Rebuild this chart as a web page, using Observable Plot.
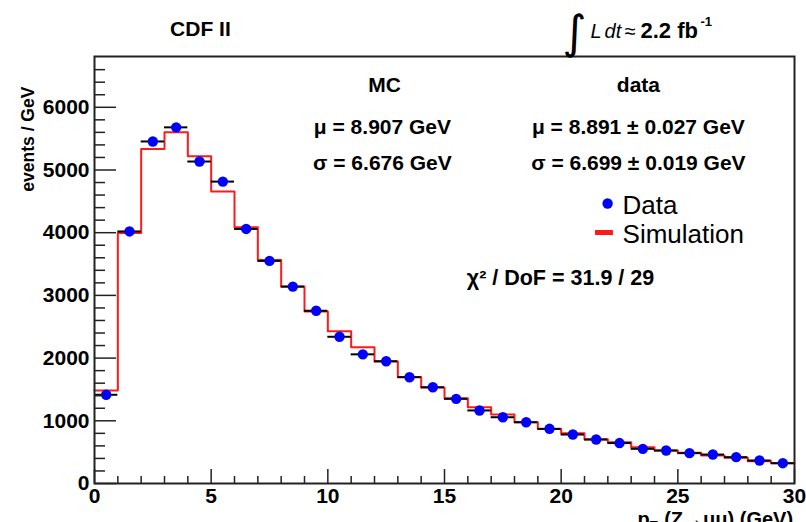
<!DOCTYPE html>
<html><head><meta charset="utf-8">
<script src="https://cdn.jsdelivr.net/npm/d3@7"></script>
<script src="https://cdn.jsdelivr.net/npm/@observablehq/plot@0.6"></script>
<style>body{margin:0;background:#fff;}</style>
</head><body><div id="chart"></div><script>
// bins of pT (GeV)
const binLow  = [0,1,2,3,4,5,6,7,8,9,10,11,12,13,14,15,16,17,18,19,20,21,22,23,24,25,26,27,28,29];
const binHigh = [1,2,3,4,5,6,7,8,9,10,11,12,13,14,15,16,17,18,19,20,21,22,23,24,25,26,27,28,29,30];
const binMid  = [0.5,1.5,2.5,3.5,4.5,5.5,6.5,7.5,8.5,9.5,10.5,11.5,12.5,13.5,14.5,15.5,16.5,17.5,18.5,19.5,20.5,21.5,22.5,23.5,24.5,25.5,26.5,27.5,28.5,29.5];
// events / GeV
const dataCounts = [1415,4020,5455,5680,5135,4815,4060,3550,3140,2755,2340,2060,1950,1695,1535,1350,1165,1057,977,872,781,701,645,553,526,484,462,420,367,324];
const simCounts  = [1483,3997,5336,5601,5219,4655,4085,3563,3140,2745,2429,2174,1945,1700,1530,1360,1217,1100,977,870,802,705,659,579,526,489,446,409,356,324];
// axis ticks
const yTicks = [0,1000,2000,3000,4000,5000,6000];
const yMinor = [200,400,600,800,1200,1400,1600,1800,2200,2400,2600,2800,3200,3400,3600,3800,4200,4400,4600,4800,5200,5400,5600,5800,6200,6400,6600];
const xTicks = [0,5,10,15,20,25,30];
const xMinor = [1,2,3,4,6,7,8,9,11,12,13,14,16,17,18,19,21,22,23,24,26,27,28,29];

const dataRows = binMid.map((m,i)=>({lo:binLow[i], hi:binHigh[i], mid:m, v:dataCounts[i]}));
const stepRows = binLow.map((x,i)=>({x, y:simCounts[i]})).concat([{x:binHigh[binHigh.length-1], y:simCounts[simCounts.length-1]}]);

const W = 806, H = 522, mL = 94, mR = 12, mT = 56, mB = 39;
const fw = W - mL - mR, fh = H - mT - mB;
const B = "'Liberation Sans', Arial, Helvetica, sans-serif";
const t = (s, x, y, o={}) => Plot.text([s], {x: ()=>x, y: ()=>y, text: d=>d, fontFamily: B, fill:"#000", ...o});

const chart = Plot.plot({
  width: W, height: H, marginLeft: mL, marginRight: mR, marginTop: mT, marginBottom: mB,
  x: {domain: [0, 30]},
  y: {domain: [0, 6810]},
  style: {fontFamily: B, background: "#fff", overflow: "visible"},
  marks: [
    Plot.line(stepRows, {x: "x", y: "y", curve: "step-after", stroke: "#ff1a1a", strokeWidth: 2}),
    Plot.ruleY(dataRows, {y: "v", x1: "lo", x2: "hi", stroke: "#000", strokeWidth: 2}),
    Plot.dot(dataRows, {x: "mid", y: "v", r: 5.2, fill: "#0000ff", stroke: "none"}),
    // ticks (inside the frame)
    Plot.tickY(yMinor, {y: d=>d, stroke: "#222", strokeWidth: 1.5, insetRight: fw - 11}),
    Plot.tickY(yTicks, {y: d=>d, stroke: "#222", strokeWidth: 1.5, insetRight: fw - 22}),
    Plot.tickX(xMinor, {x: d=>d, stroke: "#222", strokeWidth: 1.5, insetTop: fh - 7}),
    Plot.tickX(xTicks, {x: d=>d, stroke: "#222", strokeWidth: 1.5, insetTop: fh - 14}),
    Plot.axisY(yTicks, {tickSize: 0, tickPadding: 5, fontSize: 21, fontWeight: "bold", tickFormat: d=>String(d), label: null}),
    Plot.axisX(xTicks, {tickSize: 0, tickPadding: 5, fontSize: 21, fontWeight: "bold", tickFormat: d=>String(d), label: null}),
    Plot.frame({stroke: "#222", strokeWidth: 2}),
    // axis titles
    t("events / GeV", -2.85, 6330, {rotate: -90, textAnchor: "end", fontSize: 17.5, fontWeight: "bold"}),
    t("p", 23.27, -446, {textAnchor: "start", lineAnchor: "top", fontSize: 20, fontWeight: "bold"}),
    t("T", 23.8, -600, {textAnchor: "start", lineAnchor: "top", fontSize: 13, fontWeight: "bold"}),
    t("(Z\u2192\u03bc\u03bc) (GeV)", 29.94, -446, {textAnchor: "end", lineAnchor: "top", fontSize: 20, fontWeight: "bold"}),
    // header
    t("CDF II", 4.54, 7240, {fontSize: 21, fontWeight: "bold"}),
    t("\u222b", 20.57, 7177, {fontSize: 46, fontFamily: "'DejaVu Sans', sans-serif"}),
    t("L", 21.26, 7210, {textAnchor: "start", fontSize: 20, fontStyle: "italic"}),
    t("dt", 21.86, 7210, {textAnchor: "start", fontSize: 20, fontStyle: "italic"}),
    t("\u2248", 22.72, 7210, {textAnchor: "start", fontSize: 20}),
    t("2.2 fb", 23.4, 7210, {textAnchor: "start", fontSize: 22, fontWeight: "bold"}),
    t("-1", 25.97, 7370, {textAnchor: "start", fontSize: 13, fontWeight: "bold"}),
    // stats
    t("MC", 12.43, 6347, {fontSize: 21, fontWeight: "bold"}),
    t("data", 23.31, 6347, {fontSize: 21, fontWeight: "bold"}),
    t("\u03bc = 8.907 GeV", 12.34, 5677, {fontSize: 21, fontWeight: "bold"}),
    t("\u03bc = 8.891 \u00b1 0.027 GeV", 23.31, 5677, {fontSize: 21, fontWeight: "bold"}),
    t("\u03c3 = 6.676 GeV", 12.34, 5103, {fontSize: 21, fontWeight: "bold"}),
    t("\u03c3 = 6.699 \u00b1 0.019 GeV", 23.31, 5103, {fontSize: 21, fontWeight: "bold"}),
    // legend
    Plot.dot([0], {x: ()=>21.99, y: ()=>4465, r: 5.2, fill: "#0000ff"}),
    t("Data", 22.63, 4434, {textAnchor: "start", fontSize: 26}),
    Plot.ruleY([0], {y: ()=>4003, x1: ()=>21.47, x2: ()=>22.24, stroke: "#ff1a1a", strokeWidth: 5}),
    t("Simulation", 22.63, 3971, {textAnchor: "start", fontSize: 26}),
    t("\u03c7\u00b2 / DoF = 31.9 / 29", 19.97, 3269, {fontSize: 21.5, fontWeight: "bold"})
  ]
});
document.getElementById("chart").appendChild(chart);
</script></body></html>
